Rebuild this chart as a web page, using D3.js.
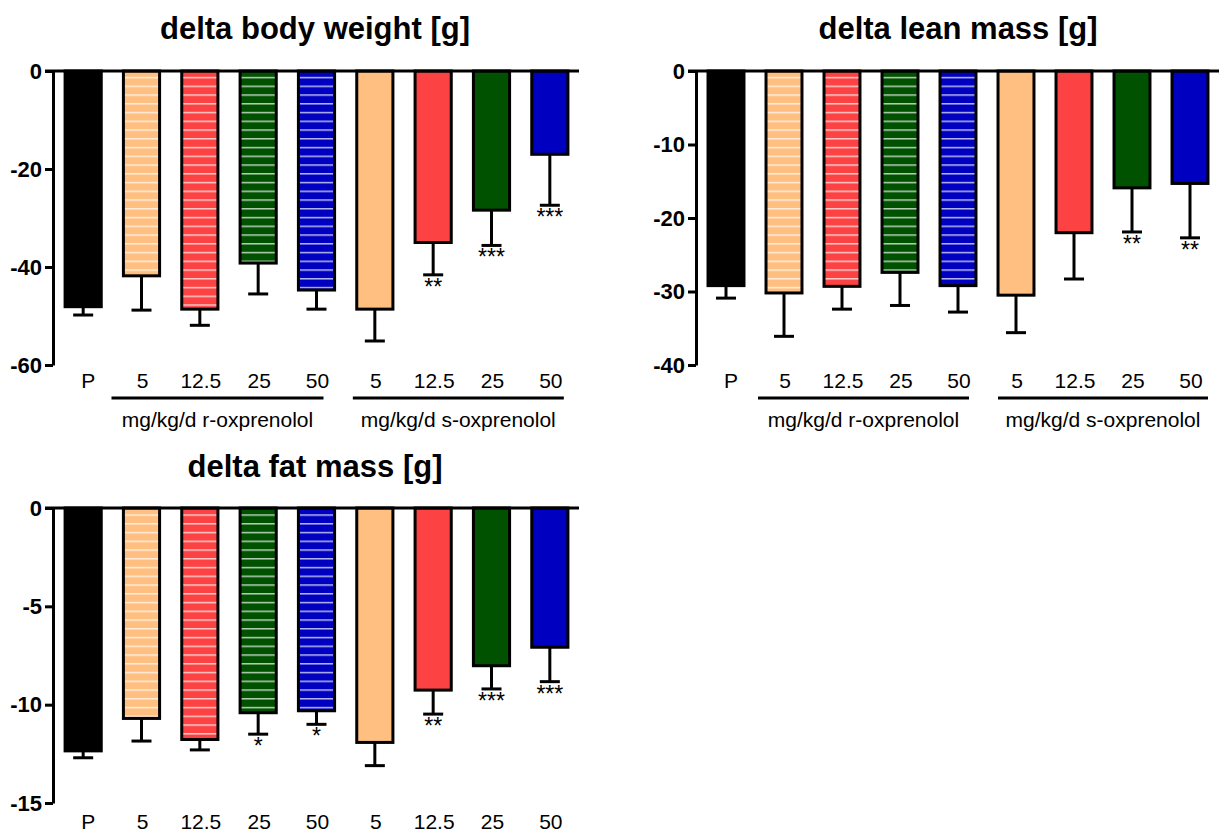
<!DOCTYPE html>
<html>
<head>
<meta charset="utf-8">
<script src="https://cdn.jsdelivr.net/npm/d3@7"></script>
<style>
  body { margin: 0; background: #fff; }
  svg { display: block; font-family: "Liberation Sans", Arial, sans-serif; }
</style>
</head>
<body>
<svg id="chart" width="1219" height="834"></svg>
<script>
// categories and groups
const categories = ["P", "5", "12.5", "25", "50", "5 ", "12.5 ", "25 ", "50 "];
const tickLabels = ["P", "5", "12.5", "25", "50", "5", "12.5", "25", "50"];
const striped = [false, true, true, true, true, false, false, false, false];
const barColors = ["#000000", "#FFBF80", "#FC4242", "#005200", "#0000C0", "#FFBF80", "#FC4242", "#005200", "#0000C0"];
const groupLabels = ["mg/kg/d r-oxprenolol", "mg/kg/d s-oxprenolol"];

// delta body weight [g]
const bodyMean = [-48.1, -41.8, -48.6, -39.2, -44.7, -48.6, -35.0, -28.4, -17.0];
const bodySd = [1.7, 7.0, 3.3, 6.3, 3.9, 6.5, 6.6, 7.2, 10.4];
const bodySig = ["", "", "", "", "", "", "**", "***", "***"];
const bodyTicks = [0, -20, -40, -60];

// delta lean mass [g]
const leanMean = [-29.2, -30.2, -29.3, -27.4, -29.2, -30.5, -22.0, -15.9, -15.3];
const leanSd = [1.7, 5.9, 3.1, 4.5, 3.6, 5.1, 6.3, 6.0, 7.4];
const leanSig = ["", "", "", "", "", "", "", "**", "**"];
const leanTicks = [0, -10, -20, -30, -40];

// delta fat mass [g]
const fatMean = [-12.35, -10.7, -11.77, -10.41, -10.31, -11.92, -9.26, -8.02, -7.08];
const fatSd = [0.35, 1.15, 0.53, 1.09, 0.69, 1.18, 1.22, 1.18, 1.75];
const fatSig = ["", "", "", "*", "*", "", "**", "***", "***"];
const fatTicks = [0, -5, -10, -15];

const svg = d3.select("#chart");
const defs = svg.append("defs");

// horizontal white stripe patterns
barColors.forEach((c, i) => {
  const p = defs.append("pattern")
    .attr("id", "stripe-" + i)
    .attr("patternUnits", "userSpaceOnUse")
    .attr("width", 10)
    .attr("height", 8.75);
  p.append("rect").attr("width", 10).attr("height", 8.75).attr("fill", c);
  p.append("rect").attr("y", 7).attr("width", 10).attr("height", 1.2)
    .attr("fill", "#fff").attr("opacity", 0.9);
});

function drawPanel(opt) {
  const { title, titleX, titleY, left, right, top, bottom, min, ticks,
          mean, sd, sig, spans, labelOffset } = opt;

  const x = d3.scaleBand().domain(categories).range([left + 1, right]).paddingInner(0.38).paddingOuter(0.19);
  const y = d3.scaleLinear().domain([min, 0]).range([bottom, top]);
  const g = svg.append("g");

  g.append("text")
    .attr("x", titleX).attr("y", titleY)
    .attr("text-anchor", "middle")
    .attr("font-size", 31).attr("font-weight", "bold")
    .text(title);

  // error bars (downward only)
  const err = g.append("g").attr("stroke", "#000").attr("stroke-width", 3);
  categories.forEach((c, i) => {
    const cx = x(c) + x.bandwidth() / 2;
    err.append("line")
      .attr("x1", cx).attr("x2", cx)
      .attr("y1", y(mean[i])).attr("y2", y(mean[i] - sd[i]));
    err.append("line")
      .attr("x1", cx - 10).attr("x2", cx + 10)
      .attr("y1", y(mean[i] - sd[i])).attr("y2", y(mean[i] - sd[i]));
  });

  // bars
  g.selectAll(".bar")
    .data(categories)
    .join("rect")
    .attr("class", "bar")
    .attr("x", d => x(d))
    .attr("y", y(0))
    .attr("width", x.bandwidth())
    .attr("height", (d, i) => y(mean[i]) - y(0))
    .attr("fill", (d, i) => striped[i] ? "url(#stripe-" + i + ")" : barColors[i])
    .attr("stroke", "#000")
    .attr("stroke-width", 3);

  // significance stars
  g.selectAll(".sig")
    .data(categories)
    .join("text")
    .attr("class", "sig")
    .attr("x", d => x(d) + x.bandwidth() / 2)
    .attr("y", (d, i) => y(mean[i] - sd[i]) + 20)
    .attr("text-anchor", "middle")
    .attr("font-size", 23)
    .text((d, i) => sig[i]);

  // y axis
  const ay = g.append("g")
    .attr("transform", `translate(${left},0)`)
    .call(d3.axisLeft(y).tickValues(ticks).tickSize(8).tickPadding(3).tickSizeOuter(0)
      .tickFormat(d => String(d)));
  ay.select(".domain").attr("stroke-width", 3);
  ay.selectAll(".tick line").attr("stroke-width", 3);
  ay.selectAll(".tick text").attr("font-size", 22).attr("font-weight", "bold")
    .attr("font-family", "Liberation Sans, Arial, sans-serif").attr("fill", "#000");

  // zero line
  g.append("line")
    .attr("x1", left - 8).attr("x2", right)
    .attr("y1", y(0)).attr("y2", y(0))
    .attr("stroke", "#000").attr("stroke-width", 3);

  // x labels
  g.selectAll(".xl")
    .data(categories)
    .join("text")
    .attr("class", "xl")
    .attr("x", (d, i) => x(d) + x.bandwidth() / 2 + (i === 0 ? 5 : 1))
    .attr("y", bottom + labelOffset)
    .attr("text-anchor", "middle")
    .attr("font-size", 21)
    .text((d, i) => tickLabels[i]);

  if (spans) {
    spans.forEach((s, k) => {
      const x1 = x(categories[s.from]) + x.bandwidth() / 2 - s.padL;
      const x2 = x(categories[s.to]) + x.bandwidth() / 2 + s.padR;
      g.append("line")
        .attr("x1", x1).attr("x2", x2)
        .attr("y1", bottom + 33).attr("y2", bottom + 33)
        .attr("stroke", "#000").attr("stroke-width", 3);
      g.append("text")
        .attr("x", (x1 + x2) / 2).attr("y", bottom + 62)
        .attr("text-anchor", "middle")
        .attr("font-size", 21)
        .text(groupLabels[k]);
    });
  }
}

drawPanel({ title: "delta body weight [g]", titleX: 315, titleY: 39, left: 53, right: 579, top: 71, bottom: 365,
  min: -60, ticks: bodyTicks, mean: bodyMean, sd: bodySd, sig: bodySig, labelOffset: 23,
  spans: [{ from: 1, to: 4, padL: 30, padR: 7 }, { from: 5, to: 8, padL: 22, padR: 14 }] });
drawPanel({ title: "delta lean mass [g]", titleX: 958, titleY: 39, left: 696, right: 1219, top: 71, bottom: 365,
  min: -40, ticks: leanTicks, mean: leanMean, sd: leanSd, sig: leanSig, labelOffset: 23,
  spans: [{ from: 1, to: 4, padL: 26, padR: 11 }, { from: 5, to: 8, padL: 18, padR: 18 }] });
drawPanel({ title: "delta fat mass [g]", titleX: 315, titleY: 477, left: 53, right: 579, top: 508, bottom: 803,
  min: -15, ticks: fatTicks, mean: fatMean, sd: fatSd, sig: fatSig, labelOffset: 26, spans: null });
</script>
</body>
</html>
